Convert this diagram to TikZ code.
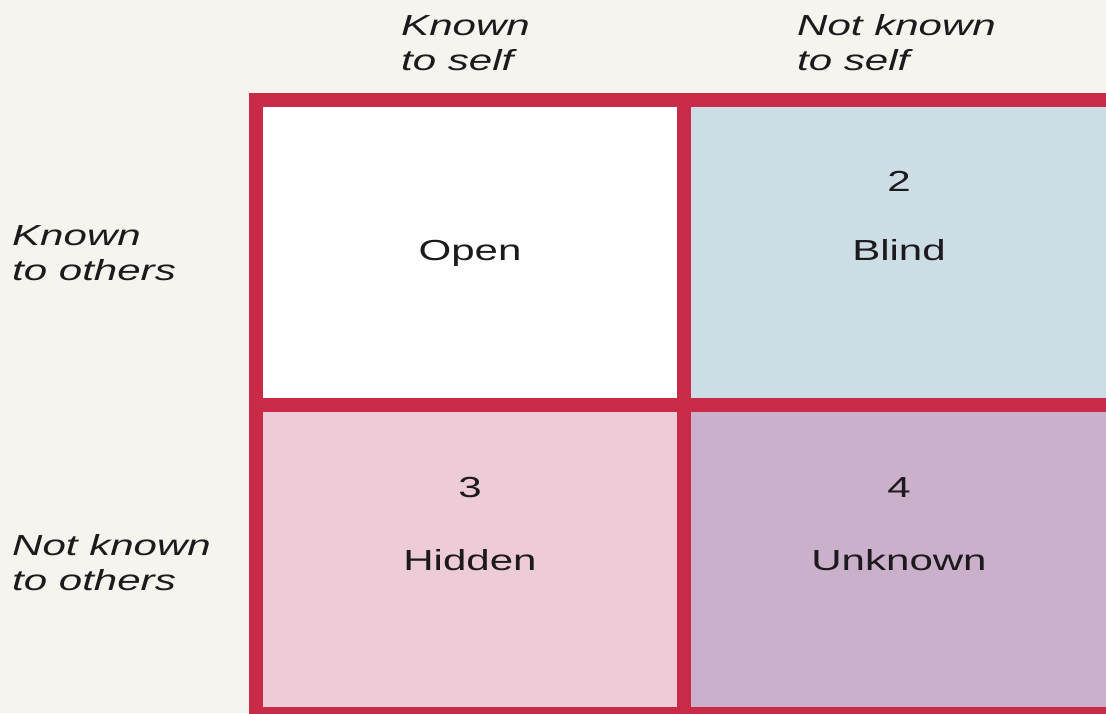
\documentclass[tikz,border=0pt]{standalone}
\usepackage{fontspec}
\setmainfont{Liberation Sans}[FakeStretch=1.45]
\definecolor{bgc}{HTML}{F7F3EE}
\definecolor{redc}{HTML}{C82A48}
\definecolor{bluec}{HTML}{CCDDE5}
\definecolor{pinkc}{HTML}{EDCCD8}
\definecolor{purpc}{HTML}{CBB0CC}
\definecolor{txtc}{HTML}{1C1A1C}
\tikzset{
  cell/.style={draw=redc, line width=14pt, inner sep=0pt, outer sep=0pt},
  lbl/.style={anchor=base, inner sep=0pt, text=txtc, font=\fontsize{29}{35}\selectfont},
  side/.style={anchor=base west, inner sep=0pt, align=left, text=txtc, font=\fontsize{29}{35}\selectfont\itshape},
}
\begin{document}
\begin{tikzpicture}[x=1pt,y=-1pt]
\useasboundingbox (0,0) rectangle (1106,713);
\fill[bgc] (0,0) rectangle (1106,713);
\begin{scope}
\clip (0,0) rectangle (1106,713);
\node[cell, fill=white, minimum width=428pt, minimum height=305pt] (open) at (470,252.5) {};
\node[cell, fill=bluec, minimum width=436pt, minimum height=305pt] (blind) at (902,252.5) {};
\node[cell, fill=pinkc, minimum width=428pt, minimum height=309pt] (hidden) at (470,559.5) {};
\node[cell, fill=purpc, minimum width=436pt, minimum height=309pt] (unknown) at (902,559.5) {};
\end{scope}
% cell texts
\node[lbl] (topen) at (470,260) {Open};
\node[lbl] (n2) at (899,191) {2};
\node[lbl] (tblind) at (899,260) {Blind};
\node[lbl] (n3) at (470,497) {3};
\node[lbl] (thidden) at (470,570) {Hidden};
\node[lbl] (n4) at (899,497) {4};
\node[lbl] (tunknown) at (899,570) {Unknown};
% headings (anchor is the baseline of the last line)
\node[side] (ks) at (401,70) {Known\\to self};
\node[side] (nks) at (797,70) {Not known\\to self};
\node[side] (ko) at (12,280) {Known\\to others};
\node[side] (nko) at (12,590) {Not known\\to others};
\end{tikzpicture}
\end{document}
